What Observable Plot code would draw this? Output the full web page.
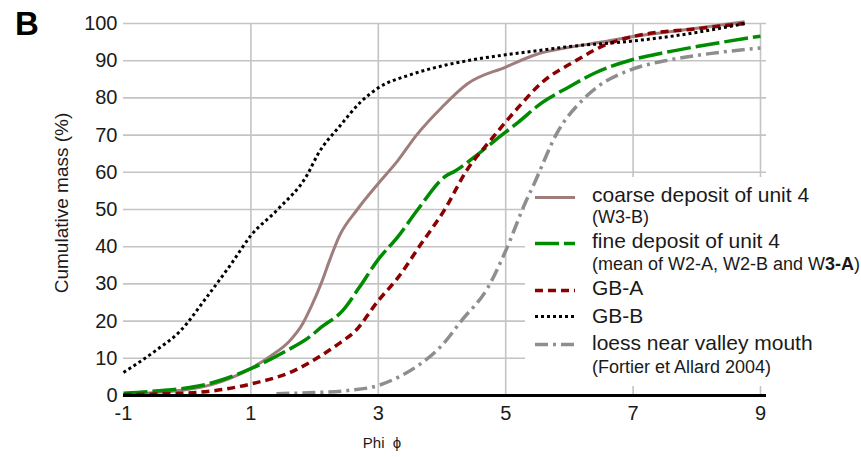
<!DOCTYPE html>
<html>
<head>
<meta charset="utf-8">
<script src="https://cdn.jsdelivr.net/npm/d3@7"></script>
<script src="https://cdn.jsdelivr.net/npm/@observablehq/plot@0.6"></script>
<style>
  html, body { margin: 0; padding: 0; background: #fff; }
  #chart { width: 861px; height: 457px; }
  #chart svg { display: block; }
</style>
</head>
<body>
<div id="chart"></div>
<script>
// ---- data ----
const xTicks = [-1, 1, 3, 5, 7, 9];
const yTicks = [0, 10, 20, 30, 40, 50, 60, 70, 80, 90, 100];
const xGrid = [1, 3, 5, 7, 9];

const seriesNames = ["coarse deposit of unit 4", "fine deposit of unit 4", "GB-A", "GB-B", "loess near valley mouth"];
const seriesNotes = ["(W3-B)", "(mean of W2-A, W2-B and W3-A)", "", "", "(Fortier et Allard 2004)"];

const coarsePhi  = [-1, -0.5, 0, 0.4, 0.7, 1, 1.3, 1.6, 1.81, 1.95, 2.1, 2.25, 2.39, 2.67, 3.0, 3.3, 3.6, 4.0, 4.4, 5.0, 5.5, 6.0, 6.5, 7.0, 8.0, 8.75];
const coarseMass = [0.3, 0.8, 1.6, 3, 4.8, 7.3, 10.5, 14.5, 19.2, 24, 30, 37, 42.9, 50, 57, 63, 70, 77.5, 83.8, 88.3, 91.8, 93.6, 95, 96.5, 98.7, 100.5];

const finePhi  = [-1, -0.5, 0.2, 0.6, 1, 1.5, 1.94, 2.1, 2.44, 2.7, 3.0, 3.3, 3.62, 4.06, 4.2, 4.5, 4.82, 5.2, 5.56, 6.0, 6.4, 6.97, 7.5, 8.0, 9.0];
const fineMass = [0.6, 1.2, 2.6, 4.5, 7.2, 11.5, 16, 18.3, 22.8, 29, 36.6, 42.5, 50, 59, 60.3, 64, 68.4, 73.5, 78.6, 83, 86.7, 90.2, 92.2, 93.8, 96.6];

const gbaPhi  = [-1, -0.5, 0.2, 1, 1.68, 2.1, 2.41, 2.62, 3.0, 3.3, 3.67, 4.05, 4.38, 4.77, 5.19, 5.56, 6.08, 6.6, 7.0, 8.0, 8.75];
const gbaMass = [0.2, 0.4, 0.9, 3.1, 6.7, 10.7, 14.3, 17, 25.5, 31.5, 40.7, 50.2, 60.3, 68.8, 77.3, 84, 89.8, 94.5, 96.5, 98.6, 100];

const gbbPhi  = [-1, -0.5, -0.1, 0.3, 0.7, 1, 1.42, 1.89, 2.05, 2.4, 2.73, 3.0, 3.5, 4.0, 4.5, 5.0, 5.5, 6.0, 7.0, 8.0, 8.75];
const gbbMass = [6.2, 12, 17.5, 26.3, 35.6, 43, 50, 59.5, 64.8, 72.5, 79, 82.7, 86.2, 88.6, 90.3, 91.6, 92.7, 93.8, 95.3, 97.6, 100];

const loessPhi  = [1.4, 2.0, 2.5, 3.0, 3.3, 3.62, 4.0, 4.3, 4.72, 5.0, 5.32, 5.43, 5.82, 6.21, 6.45, 6.97, 7.6, 8.2, 9.0];
const loessMass = [0.5, 0.8, 1.3, 2.7, 4.8, 8, 13.5, 20, 29, 38.9, 52.3, 56.3, 71, 79.5, 83.1, 87.6, 90.3, 91.9, 93.4];

// ---- styles ----
const colors = ["#a07d7d", "#008c00", "#8b0000", "#000000", "#8e8e8e"];
const dashes = [null, "24,5", "8,5", "3,3", "13,5,3,5"];
const widths = [3, 3.5, 3.5, 3, 3.5];

const series = [
  [coarsePhi, coarseMass],
  [finePhi, fineMass],
  [gbaPhi, gbaMass],
  [gbbPhi, gbbMass],
  [loessPhi, loessMass]
];

const lineMarks = series.map(([px, py], i) => {
  const rows = px.map((p, j) => ({phi: p, mass: py[j]}));
  return Plot.line(rows, {
    x: "phi", y: "mass",
    stroke: colors[i],
    strokeWidth: widths[i],
    strokeDasharray: dashes[i] ?? undefined,
    strokeLinecap: "butt",
    strokeLinejoin: "round",
    curve: "monotone-x"
  });
});

const chart = Plot.plot({
  width: 861,
  height: 457,
  marginLeft: 123,
  marginRight: 101,
  marginTop: 23,
  marginBottom: 62,
  style: {fontFamily: "'Liberation Sans', Arial, sans-serif", fontSize: "20px", color: "#1a1a1a", background: "#fff"},
  x: {domain: [-1, 9], ticks: xTicks, tickSize: 0, tickPadding: 10, tickFormat: d => String(d), label: null},
  y: {domain: [0, 100], ticks: yTicks, tickSize: 0, tickPadding: 6, tickFormat: d => String(d), label: null},
  marks: [
    Plot.ruleY(yTicks.filter(d => d > 0), {stroke: "#c4c4c4", strokeWidth: 1.6, insetRight: -6, ariaLabel: "gridy"}),
    Plot.ruleX(xGrid, {stroke: "#c4c4c4", strokeWidth: 1.6, ariaLabel: "gridx"}),
    ...lineMarks,
    Plot.ruleY([0], {stroke: "#000", strokeWidth: 3, insetRight: -6})
  ]
});

document.getElementById("chart").appendChild(chart);

const svg = d3.select(chart);
const ns = "http://www.w3.org/2000/svg";

// white legend box above the grid, below the curves
const box = document.createElementNS(ns, "rect");
box.setAttribute("x", 525); box.setAttribute("y", 177);
box.setAttribute("width", 320); box.setAttribute("height", 209);
box.setAttribute("fill", "#ffffff");
let gridNode = chart.querySelector('[aria-label="gridx"]');
if (gridNode) {
  gridNode.parentNode.insertBefore(box, gridNode.nextSibling);
} else {
  const firstLine = chart.querySelector('[aria-label="line"]');
  if (firstLine) firstLine.parentNode.insertBefore(box, firstLine);
}

// panel letter
svg.append("text")
  .attr("x", 15).attr("y", 35)
  .attr("text-anchor", "start")
  .attr("font-size", 33).attr("font-weight", "bold")
  .attr("fill", "#000")
  .text("B");

// y title
svg.append("text")
  .attr("transform", "translate(61,203) rotate(-90)")
  .attr("text-anchor", "middle")
  .attr("dominant-baseline", "central")
  .attr("font-size", 19)
  .attr("fill", "#1a1a1a")
  .text("Cumulative mass (%)");

// x title
svg.append("text")
  .attr("x", 382).attr("y", 448)
  .attr("text-anchor", "middle")
  .attr("font-size", 15)
  .attr("fill", "#1a1a1a")
  .text("Phi\u00a0\u00a0\u03d5");

// legend
const lineY = [197.5, 243.5, 290.5, 316.5, 344.5];
const textY = [201.5, 248, 295, 322.5, 350];
const noteY = [223, 270, null, null, 373];
const lg = svg.append("g").attr("font-size", 21).attr("fill", "#1a1a1a").attr("text-anchor", "start");
seriesNames.forEach((name, i) => {
  lg.append("line")
    .attr("x1", 535).attr("x2", 575)
    .attr("y1", lineY[i]).attr("y2", lineY[i])
    .attr("stroke", colors[i])
    .attr("stroke-width", widths[i])
    .attr("stroke-dasharray", dashes[i])
    .attr("stroke-linecap", "butt");
  lg.append("text").attr("x", 592).attr("y", textY[i]).text(name);
  if (seriesNotes[i]) {
    const t = lg.append("text").attr("x", 592).attr("y", noteY[i]).attr("font-size", 18);
    const note = seriesNotes[i];
    if (note.endsWith("W3-A)")) {
      t.append("tspan").text(note.slice(0, note.length - 4));
      t.append("tspan").attr("font-weight", "bold").text("3-A");
      t.append("tspan").text(")");
    } else {
      t.text(note);
    }
  }
});
</script>
</body>
</html>
